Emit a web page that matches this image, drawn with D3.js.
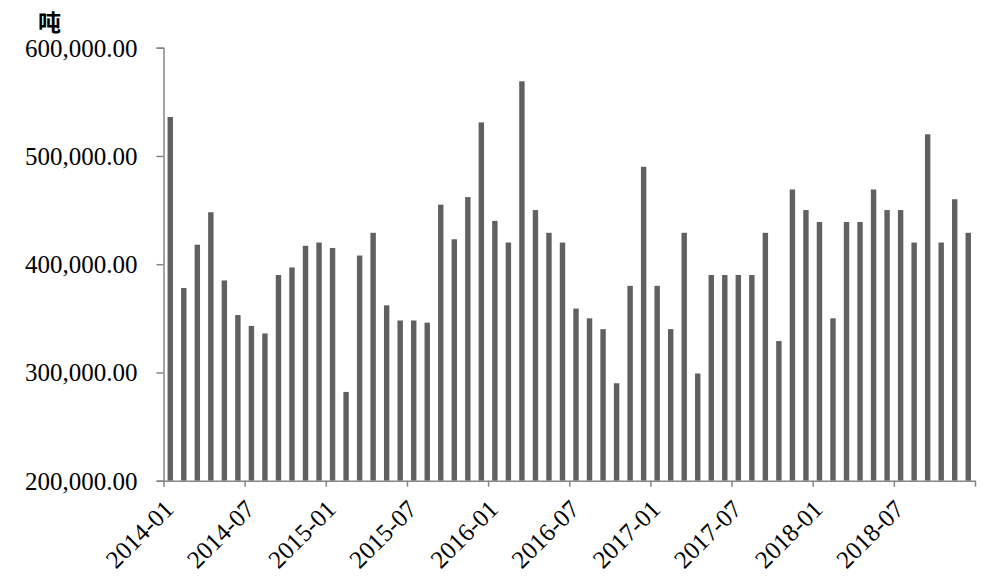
<!DOCTYPE html>
<html>
<head>
<meta charset="utf-8">
<script src="https://cdn.jsdelivr.net/npm/d3@7"></script>
<style>
  html, body { margin: 0; padding: 0; background: #fff; }
  svg { display: block; }
</style>
</head>
<body>
<svg id="chart" width="992" height="588"></svg>
<script>
const months = [
  "2014-01","2014-02","2014-03","2014-04","2014-05","2014-06","2014-07","2014-08","2014-09","2014-10","2014-11","2014-12",
  "2015-01","2015-02","2015-03","2015-04","2015-05","2015-06","2015-07","2015-08","2015-09","2015-10","2015-11","2015-12",
  "2016-01","2016-02","2016-03","2016-04","2016-05","2016-06","2016-07","2016-08","2016-09","2016-10","2016-11","2016-12",
  "2017-01","2017-02","2017-03","2017-04","2017-05","2017-06","2017-07","2017-08","2017-09","2017-10","2017-11","2017-12",
  "2018-01","2018-02","2018-03","2018-04","2018-05","2018-06","2018-07","2018-08","2018-09","2018-10","2018-11","2018-12"
];
const values = [
  536000, 378000, 418000, 448000, 385000, 353000, 343000, 336000, 390000, 397000, 417000, 420000,
  415000, 282000, 408000, 429000, 362000, 348000, 348000, 346000, 455000, 423000, 462000, 531000,
  440000, 420000, 569000, 450000, 429000, 420000, 359000, 350000, 340000, 290000, 380000, 490000,
  380000, 340000, 429000, 299000, 390000, 390000, 390000, 390000, 429000, 329000, 469000, 450000,
  439000, 350000, 439000, 439000, 469000, 450000, 450000, 420000, 520000, 420000, 460000, 429000
];
const xTickLabels = ["2014-01","2014-07","2015-01","2015-07","2016-01","2016-07","2017-01","2017-07","2018-01","2018-07"];
const yTicks = [200000, 300000, 400000, 500000, 600000];
const unitLabel = "吨";

const svg = d3.select("#chart");
const plotLeft = 163.5, plotRight = 975, plotTop = 47.7, plotBottom = 480.7;

const x = d3.scaleBand().domain(months).range([plotLeft, plotRight]).paddingInner(0.6).paddingOuter(0.3);
const xi = d3.scaleLinear().domain([0, months.length]).range([plotLeft, plotRight]);
const y = d3.scaleLinear().domain([200000, 600000]).range([plotBottom, plotTop]);

const axisColor = "#868686";
const barColor = "#606060";
const font = "'Liberation Serif', 'Times New Roman', serif";

// bars
svg.append("g").selectAll("rect").data(values).join("rect")
  .attr("x", (d, i) => x(months[i]))
  .attr("width", x.bandwidth())
  .attr("y", d => y(d))
  .attr("height", d => y(200000) - y(d))
  .attr("fill", barColor);

// y axis
const yAxis = svg.append("g").attr("transform", `translate(${plotLeft},0)`)
  .call(d3.axisLeft(y).tickValues(yTicks).tickSize(7).tickPadding(19)
    .tickFormat(d => d3.format(",.2f")(d)));
yAxis.select(".domain").attr("stroke", axisColor).attr("stroke-width", 1.5);
yAxis.selectAll(".tick line").attr("stroke", axisColor).attr("stroke-width", 1.5);
yAxis.selectAll(".tick text").attr("font-family", font).attr("font-size", 25).attr("fill", "#000")
  .attr("dy", "0.34em");

// x axis
const xTickIdx = d3.range(0, months.length + 1, 6);
const xAxis = svg.append("g").attr("transform", `translate(0,${plotBottom})`)
  .call(d3.axisBottom(xi).tickValues(xTickIdx).tickSize(6).tickSizeOuter(0)
    .tickFormat((d, i) => xTickLabels[i] || ""));
xAxis.select(".domain").attr("stroke", axisColor).attr("stroke-width", 1.5);
xAxis.selectAll(".tick line").attr("stroke", axisColor).attr("stroke-width", 1.5);
xAxis.selectAll(".tick text")
  .attr("font-family", font).attr("font-size", 25).attr("fill", "#000")
  .attr("text-anchor", "end")
  .attr("x", 0).attr("y", 0).attr("dy", "0.34em")
  .attr("transform", "translate(5,24) rotate(-45)");

// unit label
svg.append("text").attr("x", 49.5).attr("y", 31)
  .attr("text-anchor", "middle")
  .attr("font-family", "'Noto Sans CJK SC', sans-serif")
  .attr("font-weight", "bold").attr("font-size", 23)
  .attr("fill", "#000").text(unitLabel);
</script>
</body>
</html>
